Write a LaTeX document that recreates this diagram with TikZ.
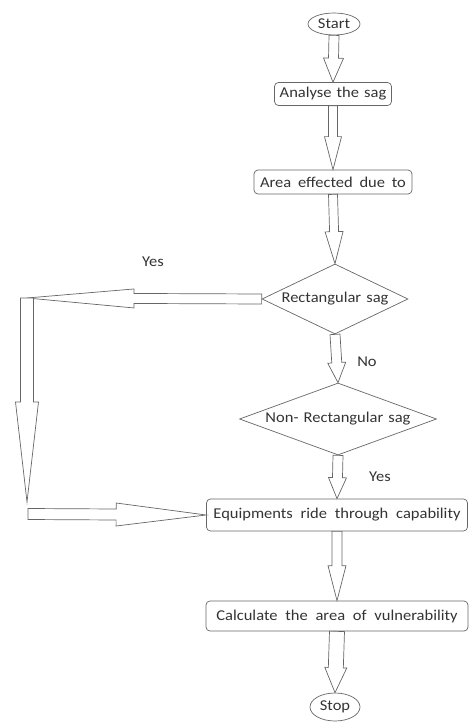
\documentclass[tikz,border=0pt]{standalone}
\usepackage{fontspec}
\setmainfont[FakeStretch=1.1]{Carlito}
\usetikzlibrary{shapes.geometric,calc}
\newcommand{\chartfont}{\fontsize{15}{17}\selectfont\spaceskip=0.34em\relax}
\newcommand{\midspace}{\spaceskip=0.45em\relax}
\newcommand{\widespace}{\spaceskip=0.52em\relax}
% hollow block arrow: start, tip, head length, shaft half width, head half width
\newcommand{\blockarrow}[5]{%
  \coordinate (hb) at ($(#2)!#3!(#1)$);
  \draw[flow] ($(#1)!#4!90:(#2)$) -- ($(hb)!#4!90:(#2)$) -- ($(hb)!#5!90:(#2)$)
    -- (#2) -- ($(hb)!#5!-90:(#2)$) -- ($(hb)!#4!-90:(#2)$) -- ($(#1)!#4!-90:(#2)$) -- cycle;
}
\begin{document}
\begin{tikzpicture}[x=1pt, y=-1pt, font=\chartfont,
    main/.style = {draw=black!60, line width=0.7pt, rounded corners=4pt, inner sep=0pt, text=black!80},
    term/.style = {draw=black!60, line width=0.7pt, ellipse, inner sep=0pt, text=black!80},
    decision/.style = {draw=black!60, line width=0.7pt, diamond, aspect=2.5, inner sep=0pt, text=black!80},
    flow/.style = {draw=black!60, line width=0.7pt, fill=white, line join=miter},
    lbl/.style = {text=black!80}]
    \useasboundingbox (0,0) rectangle (469,722);
    \node[term, minimum width=52pt, minimum height=22pt] at (334,24) (start) {Start};
    \node[main, minimum width=117pt, minimum height=23pt] at (333,94) (analyse) {Analyse the sag};
    \node[main, minimum width=158pt, minimum height=24pt, font=\chartfont\midspace] at (333,182) (area) {Area effected due to};
    \node[decision, minimum width=146pt, minimum height=70pt] at (335,299) (rect) {Rectangular sag};
    \node[decision, minimum width=197pt, minimum height=72pt] at (338,419) (nonrect) {Non- Rectangular sag};
    \node[main, minimum width=261pt, minimum height=32pt, font=\chartfont\widespace] at (337,515) (equip) {Equipments ride through capability};
    \node[main, minimum width=262pt, minimum height=30pt, font=\chartfont\widespace] at (337,616) (calc) {Calculate the area of vulnerability};
    \node[term, minimum width=50pt, minimum height=28pt] at (335,707) (stop) {Stop};
    \node[lbl] at (153,262) (yes1) {Yes};
    \node[lbl] at (367,362) (no) {No};
    \node[lbl] at (380,477) (yes2) {Yes};
    \coordinate (c1) at (27,298);
    \coordinate (c2) at (27,502);
    \coordinate (c3) at (28,514);
    \blockarrow{start.south}{analyse.north}{24pt}{5pt}{10pt}
    \blockarrow{analyse.south}{area.north}{33pt}{4.5pt}{8.5pt}
    \blockarrow{area.south}{rect.north}{32pt}{4.5pt}{9pt}
    \blockarrow{rect.south}{nonrect.north}{20pt}{5pt}{9pt}
    \blockarrow{nonrect.south}{equip.north}{21pt}{5pt}{9pt}
    \blockarrow{equip.south}{calc.north}{35pt}{5pt}{9pt}
    \blockarrow{calc.south}{stop.north}{25pt}{7.5pt}{11pt}
    \blockarrow{rect.west}{c1}{107pt}{5pt}{9.5pt}
    \blockarrow{c1}{c2}{100pt}{6.5pt}{11.5pt}
    \blockarrow{c3}{equip.west}{90pt}{5.5pt}{11.5pt}
\end{tikzpicture}
\end{document}
